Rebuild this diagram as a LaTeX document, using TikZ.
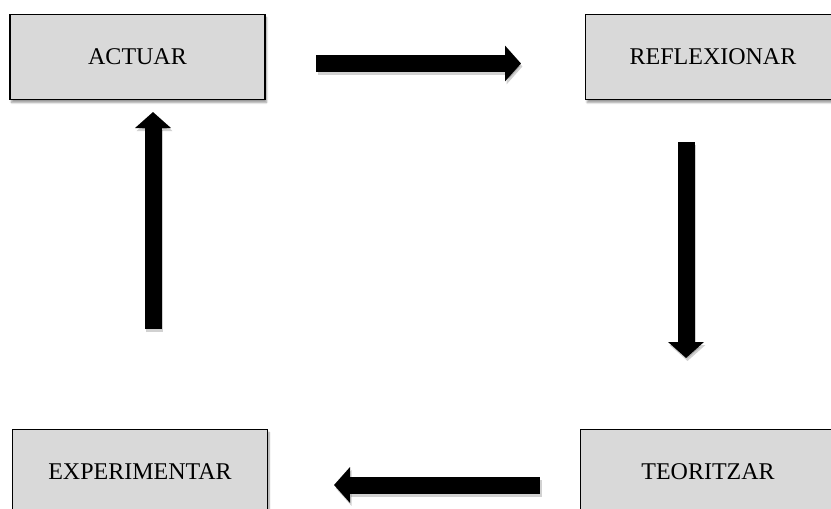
\documentclass[tikz,border=0pt]{standalone}
\usepackage{fontspec}
\setmainfont{Liberation Serif}
\usetikzlibrary{arrows.meta,shadows.blur}
\definecolor{boxfill}{HTML}{D9D9D9}
\tikzset{
  stage/.style={draw=black, line width=1.4pt, fill=boxfill,
    minimum width=255pt, minimum height=85pt, inner sep=0pt,
    font=\fontsize{24}{28}\selectfont,
    blur shadow={shadow xshift=1.5pt, shadow yshift=-3pt, shadow blur steps=6, shadow opacity=40}},
  blockarrow/.style={line width=17pt, -{Triangle[length=16pt, width=35pt]}},
  blockshadow/.style={line width=17pt, -{Triangle[length=16pt, width=35pt]}, black, opacity=0.18},
}
\begin{document}
\begin{tikzpicture}[x=1pt, y=-1pt]
  \useasboundingbox (0,0) rectangle (831,509);

  % the four stages of the cycle
  \node[stage] (actuar) at (137.5,57) {ACTUAR};
  \node[stage] (reflex) at (713,57) {REFLEXIONAR};
  \node[stage] (teor)   at (708,472) {TEORITZAR};
  \node[stage] (exper)  at (140,472) {EXPERIMENTAR};

  % ends of the block arrows
  \coordinate (r1) at (316,63.5);  \coordinate (r2) at (521,63.5);
  \coordinate (d1) at (686,142);   \coordinate (d2) at (686,358);
  \coordinate (l1) at (540,485);   \coordinate (l2) at (334,485);
  \coordinate (u1) at (153,329);   \coordinate (u2) at (153,112);

  % soft shadows under the arrows
  \foreach \a/\b in {r1/r2, d1/d2, l1/l2, u1/u2}
    \draw[blockshadow] ([shift={(1.5,3)}]\a) -- ([shift={(1.5,3)}]\b);

  % the arrows
  \draw[blockarrow] (r1) -- (r2);
  \draw[blockarrow] (d1) -- (d2);
  \draw[blockarrow] (l1) -- (l2);
  \draw[blockarrow] (u1) -- (u2);
\end{tikzpicture}
\end{document}
